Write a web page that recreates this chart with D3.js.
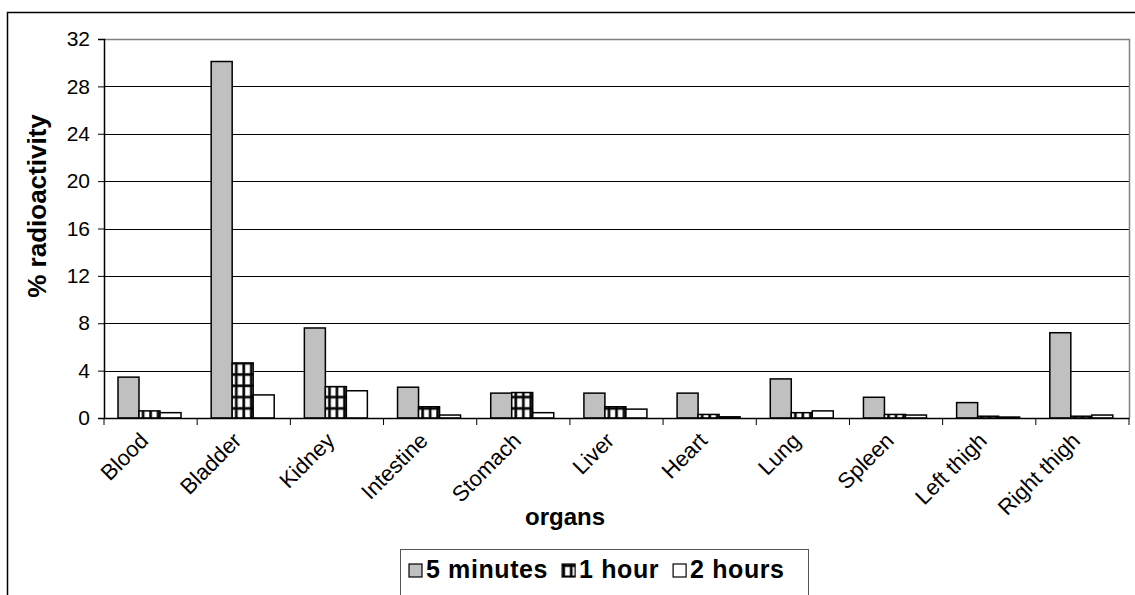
<!DOCTYPE html>
<html>
<head>
<meta charset="utf-8">
<script src="https://cdn.jsdelivr.net/npm/d3@7"></script>
<style>
  html, body { margin: 0; padding: 0; background: #fff; }
  svg { display: block; font-family: "Liberation Sans", Arial, sans-serif; }
</style>
</head>
<body>
<svg id="chart" width="1135" height="595"></svg>
<script>
// Organ biodistribution (% radioactivity) at three time points
const organs = ["Blood", "Bladder", "Kidney", "Intestine", "Stomach", "Liver",
                "Heart", "Lung", "Spleen", "Left thigh", "Right thigh"];
const seriesNames = ["5 minutes", "1 hour", "2 hours"];
const min5  = [3.45, 30.1, 7.6, 2.6, 2.1, 2.1, 2.1, 3.3, 1.75, 1.3, 7.2];
const hour1 = [0.6, 4.65, 2.65, 0.95, 2.15, 0.95, 0.3, 0.45, 0.3, 0.15, 0.15];
const hour2 = [0.45, 1.95, 2.3, 0.25, 0.45, 0.75, 0.1, 0.6, 0.25, 0.08, 0.25];
const yTicks = [0, 4, 8, 12, 16, 20, 24, 28, 32];

const svg = d3.select("#chart");

// Outer chart frame
svg.append("rect")
  .attr("x", 7.5).attr("y", 12.5).attr("width", 1200).attr("height", 700)
  .attr("fill", "none").attr("stroke", "#000").attr("stroke-width", 1.5);

const plot = { left: 104, right: 1129, top: 39, bottom: 418 };

const x = d3.scaleBand().domain(organs).range([plot.left, plot.right]).padding(0);
const xs = d3.scaleBand().domain(seriesNames).range([14, 77]).padding(0);
const y = d3.scaleLinear().domain([0, 32]).range([plot.bottom, plot.top]);

// Grid-pattern fill for the 1 hour series
const defs = svg.append("defs");
const pw = 7.5, ph = 11.3;
const pat = defs.append("pattern").attr("id", "gridfill")
  .attr("patternUnits", "userSpaceOnUse").attr("width", pw).attr("height", ph);
pat.append("rect").attr("width", pw).attr("height", ph).attr("fill", "#fff");
pat.append("rect").attr("x", 0).attr("y", 0).attr("width", 3.2).attr("height", ph).attr("fill", "#777");
pat.append("rect").attr("x", 0).attr("y", 0).attr("width", pw).attr("height", 3.2).attr("fill", "#777");
pat.append("rect").attr("x", 0.6).attr("y", 0).attr("width", 2).attr("height", ph).attr("fill", "#000");
pat.append("rect").attr("x", 0).attr("y", 0.6).attr("width", pw).attr("height", 2).attr("fill", "#000");

const fills = { "5 minutes": "#c0c0c0", "1 hour": "url(#gridfill)", "2 hours": "#ffffff" };

// Gridlines
svg.append("g").selectAll("line")
  .data(yTicks.filter(t => t > 0 && t < 32))
  .join("line")
  .attr("x1", plot.left).attr("x2", plot.right)
  .attr("y1", d => Math.round(y(d)) + 0.5).attr("y2", d => Math.round(y(d)) + 0.5)
  .attr("stroke", "#000").attr("stroke-width", 1);

// Plot area top and right border
svg.append("path")
  .attr("d", `M${plot.left},${plot.top + 0.5}H${plot.right + 0.5}V${plot.bottom}`)
  .attr("fill", "none").attr("stroke", "#808080").attr("stroke-width", 1.5);

// Bars
const rows = organs.map((o, i) => ({
  organ: o,
  values: [
    { s: "5 minutes", v: min5[i] },
    { s: "1 hour", v: hour1[i] },
    { s: "2 hours", v: hour2[i] }
  ]
}));
svg.append("g").selectAll("g")
  .data(rows).join("g")
  .attr("transform", d => `translate(${x(d.organ)},0)`)
  .selectAll("rect")
  .data(d => d.values).join("rect")
  .attr("x", d => xs(d.s))
  .attr("y", d => y(d.v))
  .attr("width", xs.bandwidth())
  .attr("height", d => y(0) - y(d.v))
  .attr("fill", d => fills[d.s])
  .attr("stroke", "#000").attr("stroke-width", 1.5);

// Y axis
const yAxis = d3.axisLeft(y).tickValues(yTicks).tickSize(6).tickPadding(8);
const gy = svg.append("g").attr("transform", `translate(${plot.left},0)`).call(yAxis);
gy.select(".domain").attr("stroke", "#000").attr("stroke-width", 1.5);
gy.selectAll(".tick line").attr("stroke", "#000");
gy.selectAll(".tick text").attr("font-size", 21).attr("fill", "#000")
  .attr("font-family", "'Liberation Sans', Arial, sans-serif");

// X axis with separators between categories
const xAxis = d3.axisBottom(x).tickSize(0).tickFormat("");
const gx = svg.append("g").attr("transform", `translate(0,${plot.bottom})`).call(xAxis);
gx.select(".domain").attr("stroke", "#000").attr("stroke-width", 1.5);
gx.selectAll(".tick").remove();
gx.selectAll("line.sep")
  .data(organs.concat(["__end"]))
  .join("line").attr("class", "sep")
  .attr("x1", (d, i) => plot.left + i * x.step()).attr("x2", (d, i) => plot.left + i * x.step())
  .attr("y1", 0).attr("y2", 7).attr("stroke", "#000");

// Category labels
svg.append("g").selectAll("text")
  .data(organs).join("text")
  .attr("transform", d => `translate(${x(d) + x.bandwidth() / 2 - 1},${plot.bottom + 24}) rotate(-45)`)
  .attr("text-anchor", "end")
  .attr("font-size", 22)
  .text(d => d);

// Axis titles
svg.append("text")
  .attr("transform", `translate(46,206) rotate(-90)`)
  .attr("text-anchor", "middle").attr("font-size", 26).attr("font-weight", "bold")
  .text("% radioactivity");
svg.append("text")
  .attr("x", 565).attr("y", 525)
  .attr("text-anchor", "middle").attr("font-size", 24).attr("font-weight", "bold")
  .text("organs");

// Legend: entries laid out left to right from their measured widths
const legend = svg.append("g");
legend.append("rect")
  .attr("x", 400.5).attr("y", 549.5).attr("width", 408).attr("height", 80)
  .attr("fill", "#fff").attr("stroke", "#555").attr("stroke-width", 1);
let cursor = 409;
seriesNames.forEach(name => {
  const item = legend.append("g").attr("transform", `translate(${cursor},564)`);
  item.append("rect")
    .attr("width", 13).attr("height", 13)
    .attr("fill", fills[name]).attr("stroke", "#000").attr("stroke-width", 1.2);
  const t = item.append("text")
    .attr("x", 17).attr("y", 14)
    .attr("font-size", 25).attr("font-weight", "bold").attr("letter-spacing", 0.6)
    .text(name);
  cursor += 17 + t.node().getComputedTextLength() + 14;
});
</script>
</body>
</html>
